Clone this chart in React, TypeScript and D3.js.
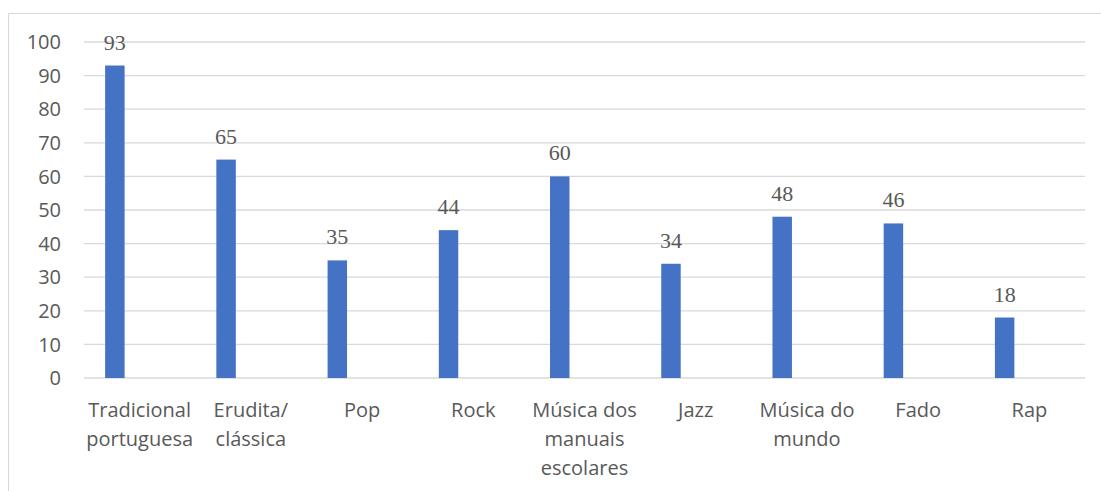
import React from "react";
import * as d3 from "d3";

const categories = [
  "Tradicional\nportuguesa",
  "Erudita/\nclássica",
  "Pop",
  "Rock",
  "Música dos\nmanuais\nescolares",
  "Jazz",
  "Música do\nmundo",
  "Fado",
  "Rap",
];
const values = [93, 65, 35, 44, 60, 34, 48, 46, 18];
const yTicks = [0, 10, 20, 30, 40, 50, 60, 70, 80, 90, 100];

const W = 1101;
const H = 491;
const plot = { left: 84, right: 1085, top: 42, bottom: 378 };
const BAR = "#4472C4";
const GRID = "#d9d9d9";
const TEXT = "#595959";
const SANS = "'Open Sans', 'Liberation Sans', sans-serif";
const SERIF = "'Liberation Serif', 'Times New Roman', serif";

export default function App() {
  const x = d3.scaleBand<string>().domain(categories).range([plot.left, plot.right]).paddingInner(0).paddingOuter(0);
  const y = d3.scaleLinear().domain([0, 100]).range([plot.bottom, plot.top]);
  const bw = x.bandwidth();
  const barOffset = bw * 0.19;
  const barWidth = bw * 0.175;

  return (
    <div style={{ position: "absolute", left: 0, top: 0 }}>
      <svg width={W} height={H} style={{ display: "block", background: "#fff" }}>
        {/* chart frame */}
        <path d={`M8.5,${H} V13.5 H${W}`} fill="none" stroke={GRID} strokeWidth={1} />
        {/* gridlines and y tick labels */}
        {yTicks.map((t) => (
          <g key={t}>
            <line x1={plot.left} x2={plot.right} y1={y(t)} y2={y(t)} stroke={GRID} strokeWidth={1.3} />
            <text x={61} y={y(t)} dy="0.36em" textAnchor="end" fontFamily={SANS} fontSize={20} fill={TEXT}>
              {t}
            </text>
          </g>
        ))}
        {/* bars with value labels */}
        {categories.map((c, i) => {
          const bx = (x(c) as number) + barOffset;
          return (
            <g key={c}>
              <rect x={bx} y={y(values[i])} width={barWidth} height={y(0) - y(values[i])} fill={BAR} />
              <text x={bx + barWidth / 2} y={y(values[i]) - 16} textAnchor="middle" fontFamily={SERIF} fontSize={22} fill={TEXT}>
                {values[i]}
              </text>
            </g>
          );
        })}
        {/* category labels */}
        {categories.map((c) => {
          const cx = (x(c) as number) + bw / 2;
          return (
            <text key={c} textAnchor="middle" fontFamily={SANS} fontSize={20} fill={TEXT}>
              {c.split("\n").map((line, j) => (
                <tspan key={j} x={cx} y={417 + j * 29}>
                  {line}
                </tspan>
              ))}
            </text>
          );
        })}
      </svg>
    </div>
  );
}
